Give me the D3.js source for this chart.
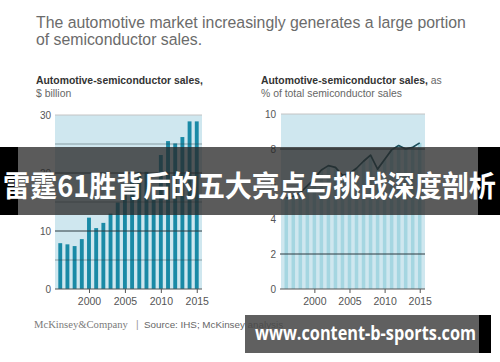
<!DOCTYPE html>
<html><head><meta charset="utf-8">
<script src="https://cdn.jsdelivr.net/npm/d3@7"></script>
<style>body{margin:0;background:#fff;} svg{display:block;}</style>
</head><body>
<script>
// ---------- data ----------
const years = [1996,1997,1998,1999,2000,2001,2002,2003,2004,2005,2006,2007,2008,2009,2010,2011,2012,2013,2014,2015];
const salesBillion = [7.9,7.7,7.4,8.6,12.3,10.5,11.4,13.0,14.9,16.6,18.4,20.2,20.2,16.2,23.1,25.5,25.1,26.2,28.9,28.9];
const sharePct = [5.2,5.3,5.5,5.9,6.3,6.8,7.05,6.95,6.5,6.6,6.9,7.3,7.65,6.85,7.4,7.95,8.2,8.0,8.1,8.35];
const leftYTicks = [0,10,20,30];
const leftMinorGrid = [5,15,25];
const leftMajorGrid = [10,20];
const rightYTicks = [0,2,4,6,8,10];
const rightGrid = [2,8];
const xTickYears = [2000,2005,2010,2015];
const titleLines = ["The automotive market increasingly generates a large portion","of semiconductor sales."];
const leftSub = ["Automotive-semiconductor sales,", "$ billion"];
const rightSub = ["Automotive-semiconductor sales,", " as", "% of total semiconductor sales"];
const bannerText = "雷霆61胜背后的五大亮点与挑战深度剖析";
const watermarkText = "www.content-b-sports.com";
const footerBrand = "McKinsey&Company";
const footerSource = "Source: IHS; McKinsey";
const footerSourceTail = " analysis";

// ---------- setup ----------
const W = 500, H = 362;
const svg = d3.select("body").append("svg").attr("width", W).attr("height", H);
const SANS = "'Liberation Sans', Arial, Helvetica, sans-serif";

function fit(sel, width) {
  const n = sel.node();
  const fs = parseFloat(sel.attr("font-size"));
  const len = n.getComputedTextLength();
  sel.attr("font-size", (fs * width / len).toFixed(2));
}

// title
titleLines.forEach((t, i) => {
  const s = svg.append("text").attr("x", 36).attr("y", 28 + i * 17)
    .attr("font-family", SANS).attr("font-size", 16).attr("fill", "#6b6b6b").text(t);
  if (i === 0) { fit(s, 430); titleFs = s.attr("font-size"); } else s.attr("font-size", titleFs);
});
var titleFs;

// subtitles
function subtitle(x, boldTxt, tail, line2) {
  const t = svg.append("text").attr("x", x).attr("y", 83.5).attr("font-family", SANS)
    .attr("font-size", 9.5).attr("fill", "#333");
  const b = t.append("tspan").attr("font-weight", "bold").text(boldTxt);
  // fit bold part to 167px
  const len = b.node().getComputedTextLength();
  const fs = 9.5 * 167 / len;
  t.attr("font-size", fs.toFixed(2));
  if (tail) t.append("tspan").attr("fill", "#666").text(tail);
  svg.append("text").attr("x", x).attr("y", 97).attr("font-family", SANS)
    .attr("font-size", fs.toFixed(2)).attr("fill", "#666").text(line2);
}
subtitle(36, leftSub[0], null, leftSub[1]);
subtitle(261, rightSub[0], rightSub[1], rightSub[2]);

const BG = "#cfe7ef";
const GRID = "#2c3b41";
const LABEL = "#555";

// ---------- left chart ----------
const xL = d3.scaleBand().domain(years).range([55, 202]).padding(0.46);
const yL = d3.scaleLinear().domain([0, 30]).range([289, 115]);
const gL = svg.append("g");
gL.append("rect").attr("x", 55).attr("y", yL(30)).attr("width", 147).attr("height", yL(0) - yL(30)).attr("fill", BG);
gL.append("line").attr("x1", 55).attr("x2", 202).attr("y1", yL(30)).attr("y2", yL(30)).attr("stroke", "#c4c4c4");
gL.selectAll("rect.bar").data(years).join("rect").attr("class", "bar")
  .attr("x", d => xL(d)).attr("width", xL.bandwidth())
  .attr("y", (d, i) => yL(salesBillion[i])).attr("height", (d, i) => yL(0) - yL(salesBillion[i]))
  .attr("fill", "#1a8aa6");
gL.selectAll("line.minor").data(leftMinorGrid).join("line").attr("class", "minor")
  .attr("x1", 55).attr("x2", 202).attr("y1", d => yL(d)).attr("y2", d => yL(d))
  .attr("stroke", GRID).attr("stroke-opacity", 0.55).attr("stroke-width", 0.8);
gL.selectAll("line.major").data(leftMajorGrid).join("line").attr("class", "major")
  .attr("x1", 55).attr("x2", 202).attr("y1", d => yL(d)).attr("y2", d => yL(d))
  .attr("stroke", GRID).attr("stroke-width", 1);
// y axis labels
const axL = gL.append("g").attr("transform", "translate(55,0)")
  .call(d3.axisLeft(yL).tickValues(leftYTicks).tickSize(0).tickPadding(4).tickFormat(d3.format("d")));
axL.select(".domain").remove();
axL.selectAll("text").attr("font-family", SANS).attr("font-size", 10).attr("fill", LABEL);
// x axis
const xLc = d3.scaleLinear().domain([1996, 2015]).range([xL(1996) + xL.bandwidth() / 2, xL(2015) + xL.bandwidth() / 2]);
const axLx = gL.append("g").attr("transform", `translate(0,${yL(0)})`)
  .call(d3.axisBottom(xLc).tickValues(xTickYears).tickSize(4).tickPadding(5).tickFormat(d3.format("d")));
axLx.select(".domain").attr("d", `M55,0H202`).attr("stroke", "#555");
axLx.selectAll(".tick line").attr("stroke", "#555");
axLx.selectAll("text").attr("font-family", SANS).attr("font-size", 10.5).attr("fill", LABEL);

// ---------- right chart ----------
const xR = d3.scaleBand().domain(years).range([281, 425]).padding(0.5);
const yR = d3.scaleLinear().domain([0, 10]).range([289, 114]);
const gR = svg.append("g");
gR.append("rect").attr("x", 281).attr("y", yR(10)).attr("width", 144).attr("height", yR(0) - yR(10)).attr("fill", BG);
gR.append("line").attr("x1", 281).attr("x2", 425).attr("y1", yR(10)).attr("y2", yR(10)).attr("stroke", "#c4c4c4");
gR.selectAll("rect.bar").data(years).join("rect").attr("class", "bar")
  .attr("x", d => xR(d)).attr("width", xR.bandwidth())
  .attr("y", (d, i) => yR(sharePct[i])).attr("height", (d, i) => yR(0) - yR(sharePct[i]))
  .attr("fill", "#a5d6e1");
gR.selectAll("line.grid").data(rightGrid).join("line").attr("class", "grid")
  .attr("x1", 280).attr("x2", 425).attr("y1", d => yR(d)).attr("y2", d => yR(d))
  .attr("stroke", GRID).attr("stroke-width", 1);
const line = d3.line().x((d, i) => xR(years[i]) + xR.bandwidth() / 2).y(d => yR(d));
gR.append("path").datum(sharePct).attr("d", line).attr("fill", "none")
  .attr("stroke", "#1d4f5b").attr("stroke-width", 1.7).attr("stroke-linejoin", "round");
const axR = gR.append("g").attr("transform", "translate(281,0)")
  .call(d3.axisLeft(yR).tickValues(rightYTicks).tickSize(0).tickPadding(5).tickFormat(d3.format("d")));
axR.select(".domain").remove();
axR.selectAll("text").attr("font-family", SANS).attr("font-size", 10).attr("fill", LABEL);
const xRc = d3.scaleLinear().domain([1996, 2015]).range([xR(1996) + xR.bandwidth() / 2, xR(2015) + xR.bandwidth() / 2]);
const axRx = gR.append("g").attr("transform", `translate(0,${yR(0)})`)
  .call(d3.axisBottom(xRc).tickValues(xTickYears).tickSize(4).tickPadding(5).tickFormat(d3.format("d")));
axRx.select(".domain").attr("d", `M280,0H425`).attr("stroke", "#555");
axRx.selectAll(".tick line").attr("stroke", "#555");
axRx.selectAll("text").attr("font-family", SANS).attr("font-size", 10.5).attr("fill", LABEL);

// ---------- footer ----------
const fb = svg.append("text").attr("x", 34).attr("y", 328).attr("font-family", "'Liberation Serif', 'Times New Roman', serif")
  .attr("font-size", 10).attr("fill", "#7a7a7a").text(footerBrand);
fit(fb, 94);
svg.append("text").attr("x", 136).attr("y", 328).attr("font-family", SANS).attr("font-size", 10).attr("fill", "#999").text("|");
const fs = svg.append("text").attr("x", 144).attr("y", 328).attr("font-family", SANS).attr("font-size", 9).attr("fill", "#666");
const fs1 = fs.append("tspan").text(footerSource);
const l1 = fs1.node().getComputedTextLength();
fs.attr("font-size", (9 * 101 / l1).toFixed(2));
fs.append("tspan").text(footerSourceTail);

// ---------- overlay banner ----------
svg.append("rect").attr("x", 0).attr("y", 147).attr("width", 500).attr("height", 68).attr("fill", "rgba(40,40,40,0.76)");
svg.append("rect").attr("x", 0).attr("y", 147).attr("width", 18).attr("height", 68).attr("fill", "#000");
svg.append("rect").attr("x", 478).attr("y", 147).attr("width", 22).attr("height", 68).attr("fill", "#000");
svg.append("text").attr("x", 3).attr("y", 197).attr("font-family", "'Noto Sans CJK SC', sans-serif")
  .attr("font-weight", "bold").attr("font-size", 29).attr("fill", "#fff")
  .attr("textLength", 493).attr("lengthAdjust", "spacingAndGlyphs").text(bannerText);

// ---------- watermark ----------
svg.append("rect").attr("x", 245).attr("y", 315).attr("width", 234).attr("height", 38).attr("fill", "rgba(72,72,72,0.87)");
svg.append("rect").attr("x", 479).attr("y", 315).attr("width", 12).attr("height", 38).attr("fill", "#000");
svg.append("text").attr("x", 255).attr("y", 340).attr("font-family", "'Open Sans', 'Noto Sans', sans-serif")
  .attr("font-weight", "bold").attr("font-size", 19).attr("fill", "#fff")
  .attr("textLength", 221).attr("lengthAdjust", "spacingAndGlyphs").text(watermarkText);
</script>
</body></html>
